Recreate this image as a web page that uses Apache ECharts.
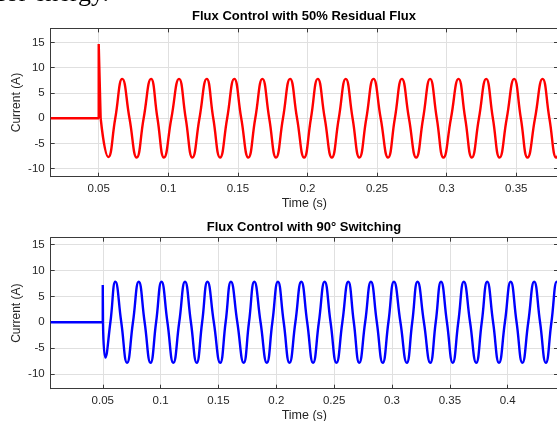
<!DOCTYPE html>
<html><head><meta charset="utf-8">
<script src="https://cdn.jsdelivr.net/npm/echarts@6/dist/echarts.min.js"></script>
<style>html,body{margin:0;padding:0;background:#fff}#c{width:557px;height:421px}</style>
</head><body><div id="c"></div>
<script>
// ---------- text ----------
const pageText = 'for energy.';
const topTitle = 'Flux Control with 50% Residual Flux';
const bottomTitle = 'Flux Control with 90° Switching';
const xName = 'Time (s)';
const yName = 'Current (A)';

// ---------- tick labels ----------
const topXTicks = [0.05, 0.1, 0.15, 0.2, 0.25, 0.3, 0.35];
const bottomXTicks = [0.05, 0.1, 0.15, 0.2, 0.25, 0.3, 0.35, 0.4];
const yTicks = [-10, -5, 0, 5, 10, 15];

// ---------- axis ranges ----------
const topXRange = [0.0155, 0.38];
const topYRange = [-11.6, 17.8];
const bottomXRange = [0.005, 0.4435];
const bottomYRange = [-12.8, 16.3];

// ---------- data: [time (s), current (A)] ----------
// 50% residual flux: zero before switching, inrush spike at 0.05 s
const topSwitch = [[0.0155, 0], [0.05, 0], [0.05, 14.7], [0.0514, 0]];
const topWave = [
  [0.0514, 0], [0.0569, -7.7], [0.0619, 0], [0.0669, 7.8], [0.0721, 0],
  [0.0773, -7.8], [0.0823, 0], [0.0876, 7.8], [0.0922, 0], [0.0969, -7.8],
  [0.1022, 0], [0.1077, 7.8], [0.1125, 0], [0.1173, -7.8], [0.1224, 0],
  [0.1276, 7.8], [0.1323, 0], [0.1372, -7.8], [0.1423, 0], [0.1474, 7.8],
  [0.1524, 0], [0.1575, -7.8], [0.1625, 0], [0.1676, 7.8], [0.1725, 0],
  [0.1774, -7.8], [0.1824, 0], [0.1875, 7.8], [0.1925, 0], [0.1976, -7.8],
  [0.2025, 0], [0.2074, 7.8], [0.2124, 0], [0.2175, -7.8], [0.2225, 0],
  [0.2275, 7.8], [0.2324, 0], [0.2373, -7.8], [0.2423, 0], [0.2474, 7.8],
  [0.2526, 0], [0.2579, -7.8], [0.2628, 0], [0.2678, 7.8], [0.2729, 0],
  [0.2781, -7.8], [0.2831, 0], [0.2881, 7.8], [0.2929, 0], [0.2977, -7.8],
  [0.3031, 0], [0.3085, 7.8], [0.3133, 0], [0.3181, -7.8], [0.3232, 0],
  [0.3284, 7.8], [0.3332, 0], [0.3380, -7.8], [0.3432, 0], [0.3485, 7.8],
  [0.3533, 0], [0.3581, -7.8], [0.3635, 0], [0.3689, 7.8], [0.3738, 0],
  [0.3787, -7.8], [0.3837, 0]
];
// 90 degree switching
const bottomSwitch = [[0.005, 0], [0.05, 0], [0.05, 7.2], [0.0502, 0]];
const bottomWave = [
  [0.0502, 0], [0.0522, -6.8], [0.0566, 0], [0.0609, 7.8], [0.0660, 0],
  [0.0710, -7.8], [0.0761, 0], [0.0811, 7.8], [0.0862, 0], [0.0913, -7.8],
  [0.0961, 0], [0.1008, 7.8], [0.1059, 0], [0.1110, -7.8], [0.1161, 0],
  [0.1211, 7.8], [0.1262, 0], [0.1312, -7.8], [0.1359, 0], [0.1405, 7.8],
  [0.1460, 0], [0.1515, -7.8], [0.1562, 0], [0.1608, 7.8], [0.1663, 0],
  [0.1718, -7.8], [0.1764, 0], [0.1810, 7.8], [0.1864, 0], [0.1918, -7.8],
  [0.1966, 0], [0.2014, 7.8], [0.2064, 0], [0.2114, -7.8], [0.2165, 0],
  [0.2216, 7.8], [0.2267, 0], [0.2318, -7.8], [0.2368, 0], [0.2418, 7.8],
  [0.2469, 0], [0.2520, -7.8], [0.2571, 0], [0.2622, 7.8], [0.2670, 0],
  [0.2717, -7.8], [0.2768, 0], [0.2818, 7.8], [0.2869, 0], [0.2920, -7.8],
  [0.2969, 0], [0.3017, 7.8], [0.3073, 0], [0.3128, -7.8], [0.3175, 0],
  [0.3221, 7.8], [0.3276, 0], [0.3331, -7.8], [0.3378, 0], [0.3424, 7.8],
  [0.3475, 0], [0.3525, -7.8], [0.3573, 0], [0.3621, 7.8], [0.3675, 0],
  [0.3728, -7.8], [0.3776, 0], [0.3823, 7.8], [0.3874, 0], [0.3925, -7.8],
  [0.3976, 0], [0.4026, 7.8], [0.4077, 0], [0.4127, -7.8], [0.4178, 0],
  [0.4229, 7.8], [0.4280, 0], [0.4330, -7.8], [0.4378, 0], [0.4425, 7.8],
  [0.4475, 0]
];

// ---------- chart ----------
const FONT = '"Liberation Sans", Arial, Helvetica, sans-serif';
const AXIS = '#3a3a3a';
const LABEL = '#262626';
const GRIDC = '#e0e0e0';
const fmt = v => String(Math.round(v * 1000) / 1000);

function xAxes(gi, range, ticks) {
  return [
    { type: 'value', gridIndex: gi, min: range[0], max: range[1], position: 'bottom',
      name: xName, nameLocation: 'middle', nameGap: 20, nameMoveOverlap: false,
      nameTextStyle: { fontFamily: FONT, fontSize: 12.5, color: LABEL },
      axisLine: { show: true, onZero: false, lineStyle: { color: AXIS, width: 1 } },
      axisTick: { show: true, inside: true, length: 4, customValues: ticks, lineStyle: { color: AXIS } },
      axisLabel: { show: true, customValues: ticks, margin: 6, color: LABEL, fontFamily: FONT, fontSize: 11.5, formatter: fmt },
      splitLine: { show: true, lineStyle: { color: GRIDC, width: 1 } } },
    { type: 'value', gridIndex: gi, min: range[0], max: range[1], position: 'top',
      axisLine: { show: true, onZero: false, lineStyle: { color: AXIS, width: 1 } },
      axisTick: { show: true, inside: true, length: 4, customValues: ticks, lineStyle: { color: AXIS } },
      axisLabel: { show: false }, splitLine: { show: false } }
  ];
}
function yAxes(gi, range) {
  return [
    { type: 'value', gridIndex: gi, min: range[0], max: range[1], position: 'left',
      name: yName, nameLocation: 'middle', nameGap: 28, nameRotate: 90, nameMoveOverlap: false,
      nameTextStyle: { fontFamily: FONT, fontSize: 12, color: LABEL },
      axisLine: { show: true, onZero: false, lineStyle: { color: AXIS, width: 1 } },
      axisTick: { show: true, inside: true, length: 4, customValues: yTicks, lineStyle: { color: AXIS } },
      axisLabel: { show: true, customValues: yTicks, margin: 6, color: LABEL, fontFamily: FONT, fontSize: 11.5 },
      splitLine: { show: true, lineStyle: { color: GRIDC, width: 1 } } },
    { type: 'value', gridIndex: gi, min: range[0], max: range[1], position: 'right',
      axisLine: { show: true, onZero: false, lineStyle: { color: AXIS, width: 1 } },
      axisTick: { show: true, inside: true, length: 4, customValues: yTicks, lineStyle: { color: AXIS } },
      axisLabel: { show: false }, splitLine: { show: false } }
  ];
}
function line(data, color, xi, yi, smooth) {
  return { type: 'line', data: data, xAxisIndex: xi, yAxisIndex: yi, showSymbol: false, symbol: 'none',
    smooth: smooth ? 0.5 : false, clip: true, lineStyle: { color: color, width: 2.4 }, itemStyle: { color: color },
    emphasis: { disabled: true }, silent: true };
}

const chart = echarts.init(document.getElementById('c'), null, { renderer: 'canvas' });
chart.setOption({
  backgroundColor: '#ffffff',
  animation: false,
  grid: [
    { left: 50.7, top: 28.4, width: 507.3, height: 148.3, containLabel: false, outerBoundsMode: 'none' },
    { left: 50.7, top: 237.7, width: 507.3, height: 151, containLabel: false, outerBoundsMode: 'none' }
  ],
  xAxis: [].concat(xAxes(0, topXRange, topXTicks), xAxes(1, bottomXRange, bottomXTicks)),
  yAxis: [].concat(yAxes(0, topYRange), yAxes(1, bottomYRange)),
  series: [
    line(topSwitch, '#ff0000', 0, 0, false),
    line(topWave, '#ff0000', 0, 0, true),
    line(bottomSwitch, '#0000ff', 2, 2, false),
    line(bottomWave, '#0000ff', 2, 2, true)
  ],
  graphic: [
    { type: 'text', x: -3, y: -5.5, silent: true,
      style: { text: pageText, font: '26px "Liberation Serif", "Times New Roman", serif', fill: '#000',
        textAlign: 'left', textVerticalAlign: 'middle', align: 'left', verticalAlign: 'middle' } },
    { type: 'text', x: 304, y: 16.5, silent: true,
      style: { text: topTitle, font: 'bold 13px ' + FONT, fill: '#000',
        textAlign: 'center', textVerticalAlign: 'middle', align: 'center', verticalAlign: 'middle' } },
    { type: 'text', x: 304, y: 227, silent: true,
      style: { text: bottomTitle, font: 'bold 13px ' + FONT, fill: '#000',
        textAlign: 'center', textVerticalAlign: 'middle', align: 'center', verticalAlign: 'middle' } }
  ]
});
</script></body></html>
